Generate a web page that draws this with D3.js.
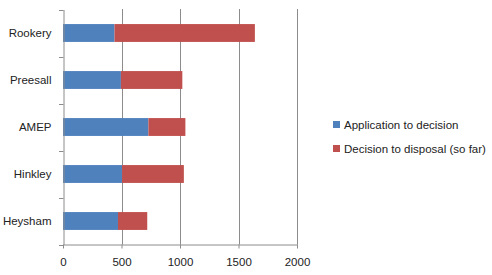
<!DOCTYPE html>
<html><head><meta charset="utf-8">
<script src="https://cdn.jsdelivr.net/npm/d3@7"></script>
<style>body{margin:0;background:#fff}svg{display:block}</style>
</head><body>
<svg id="c" width="492" height="275"></svg>
<script>
const categories = ["Rookery", "Preesall", "AMEP", "Hinkley", "Heysham"];
const seriesNames = ["Application to decision", "Decision to disposal (so far)"];
const appToDecision = [440, 495, 730, 505, 470];
const decisionToDisposal = [1200, 525, 316, 528, 250];
const xTicks = [0, 500, 1000, 1500, 2000];
const colors = ["#4F81BD", "#C0504D"];

const svg = d3.select("#c");
const font = "'Liberation Sans', Arial, sans-serif";
const fs = 11.5;
const x = d3.scaleLinear().domain([0, 2000]).range([63, 297]);
const y = d3.scaleBand().domain(categories).range([9.5, 244.5]).paddingInner(0.62).paddingOuter(0.31);
const yb = d3.scaleBand().domain(categories).range([9.5, 244.5]);

// gridlines
svg.append("g").selectAll("line").data(xTicks.slice(1)).join("line")
  .attr("x1", d => Math.round(x(d)) + 0.5).attr("x2", d => Math.round(x(d)) + 0.5)
  .attr("y1", 9).attr("y2", 244.5).attr("stroke", "#8c8c8c").attr("stroke-width", 1);

// stacked bars
const stackData = categories.map((c, i) => ({cat: c, a: appToDecision[i], b: decisionToDisposal[i]}));
const stacked = d3.stack().keys(["a", "b"])(stackData);
svg.append("g").selectAll("g").data(stacked).join("g").attr("fill", (d, i) => colors[i])
  .selectAll("rect").data(d => d).join("rect")
  .attr("x", d => x(d[0])).attr("width", d => x(d[1]) - x(d[0]))
  .attr("y", d => y(d.data.cat)).attr("height", y.bandwidth());

// axes
const yAxis = d3.axisLeft(yb).tickSize(0).tickPadding(12);
const gy = svg.append("g").attr("transform", "translate(63.5,0)").call(yAxis);
gy.select(".domain").attr("stroke", "#8c8c8c");
gy.selectAll("text").attr("font-family", font).attr("font-size", fs).attr("fill", "#222");
// category boundary ticks
svg.append("g").selectAll("line").data(d3.range(categories.length + 1)).join("line")
  .attr("x1", 59).attr("x2", 63.5)
  .attr("y1", i => Math.round(9.5 + i * yb.bandwidth()) + 0.5)
  .attr("y2", i => Math.round(9.5 + i * yb.bandwidth()) + 0.5)
  .attr("stroke", "#8c8c8c");

const xAxis = d3.axisBottom(x).tickValues(xTicks).tickFormat(d3.format("d"))
  .tickSize(4).tickPadding(9).tickSizeOuter(0);
const gx = svg.append("g").attr("transform", "translate(0,244.5)").call(xAxis);
gx.select(".domain").attr("stroke", "#8c8c8c");
gx.selectAll(".tick line").attr("stroke", "#8c8c8c");
gx.selectAll("text").attr("font-family", font).attr("font-size", fs).attr("fill", "#222");

// legend
const lg = svg.append("g").attr("transform", "translate(333,121)");
seriesNames.forEach((n, i) => {
  const g = lg.append("g").attr("transform", `translate(0,${i * 24})`);
  g.append("rect").attr("width", 7).attr("height", 7).attr("fill", colors[i]);
  g.append("text").attr("x", 11).attr("y", 7.5).text(n)
    .attr("font-family", font).attr("font-size", fs).attr("fill", "#222");
});
</script>
</body></html>
